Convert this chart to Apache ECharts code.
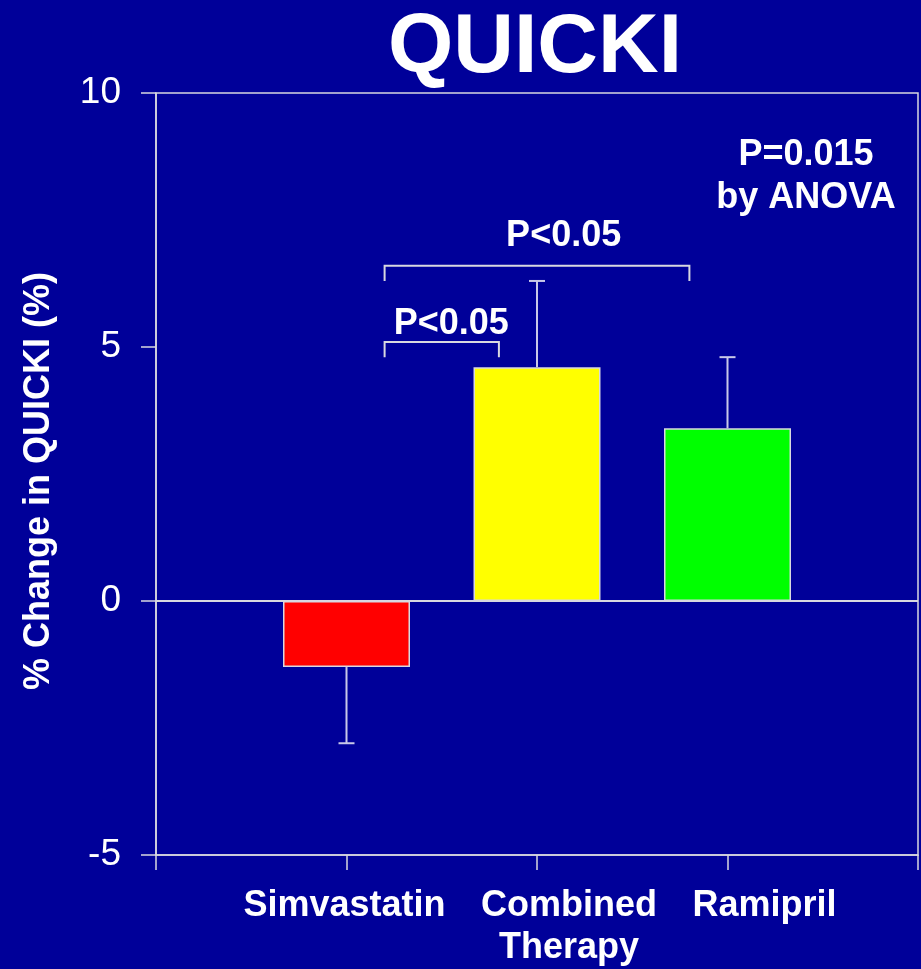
<!DOCTYPE html>
<html>
<head>
<meta charset="utf-8">
<title>QUICKI</title>
<script src="https://cdn.jsdelivr.net/npm/echarts@6/dist/echarts.min.js"></script>
<style>
	html,body{margin:0;padding:0;background:#000099}
	#chart{width:921px;height:969px}
</style>
</head>
<body>
<div id="chart"></div>
<script>
	// data
	var categories = ['', 'Simvastatin', 'Combined\nTherapy', 'Ramipril', ''];
	var changes = [null, -1.3, 4.6, 3.4, null];
	var errors = [null, 1.5, 1.7, 1.4, null];
	var barColors = [null, '#ff0000', '#ffff00', '#00ff00', null];
	var yMin = -5, yMax = 10, yStep = 5;
	// significance brackets: [from, to, level, end level] in axis units
	var brackets = [[1.2, 1.8, 5.1, 4.8], [1.2, 2.8, 6.6, 6.3]];
	var bracketText = ['P<0.05', 'P<0.05'];
	var bracketTextAt = [[1.55, 5.46], [2.14, 7.19]];
	var anovaText = 'P=0.015\nby ANOVA';

	var FONT = '"Liberation Sans", Arial, sans-serif';
	var LINE = '#d8d8e0';

	var barData = changes.map(function (v, i) {
		if (v === null) return '-';
		return {value: v, itemStyle: {color: barColors[i]}};
	});
	var errData = [];
	changes.forEach(function (v, i) {
		if (v !== null) errData.push([i, v, errors[i]]);
	});
	var bracketData = brackets.map(function (b, i) {
		return [b[0], b[1], b[2], b[3], bracketTextAt[i][0], bracketTextAt[i][1], i];
	});
	var labelStyle = ['', 's', 'c', 'r', ''];

	var myChart = echarts.init(document.getElementById('chart'));
	var option = {
		backgroundColor: '#000099',
		animation: false,
		grid: {
			left: 156, right: 3, top: 93, bottom: 114,
			containLabel: false,
			outerBoundsMode: 'none',
			show: true, borderColor: LINE, borderWidth: 1.5
		},
		xAxis: [
			{
				type: 'category',
				data: categories,
				boundaryGap: false,
				axisLine: {onZero: false, lineStyle: {color: LINE, width: 1.5}},
				axisTick: {length: 15, interval: 0, lineStyle: {color: LINE, width: 1.5}},
				axisLabel: {
					interval: 0,
					margin: 30,
					formatter: function (value, idx) {
						var k = labelStyle[idx];
						if (!k) return '';
						return value.split('\n').map(function (s) {
							return '{' + k + '|' + s + '}';
						}).join('\n');
					},
					rich: {
						s: {color: '#fff', fontFamily: FONT, fontWeight: 'bold', fontSize: 36, lineHeight: 42, padding: [0, 4, 0, 0]},
						c: {color: '#fff', fontFamily: FONT, fontWeight: 'bold', fontSize: 36, lineHeight: 42, padding: [0, 0, 0, 64]},
						r: {color: '#fff', fontFamily: FONT, fontWeight: 'bold', fontSize: 36, lineHeight: 42, padding: [0, 0, 0, 74]}
					}
				}
			},
			{type: 'value', min: 0, max: 4, show: false}
		],
		yAxis: {
			type: 'value',
			min: yMin, max: yMax, interval: yStep,
			name: '% Change in QUICKI (%)',
			nameLocation: 'middle',
			nameRotate: 90,
			nameGap: 99,
			nameTextStyle: {color: '#fff', fontFamily: FONT, fontWeight: 'bold', fontSize: 36, padding: [0, 14, 0, 0]},
			axisLine: {show: true, lineStyle: {color: LINE, width: 1.5}},
			axisTick: {show: true, length: 15, lineStyle: {color: LINE, width: 1.5}},
			axisLabel: {color: '#fff', fontFamily: FONT, fontSize: 37, margin: 35},
			splitLine: {show: false}
		},
		series: [
			{
				type: 'bar',
				data: barData,
				barWidth: 127,
				itemStyle: {borderColor: LINE, borderWidth: 1.5},
				markLine: {
					silent: true,
					symbol: 'none',
					label: {show: false},
					lineStyle: {type: 'solid', color: LINE, width: 2},
					data: [{yAxis: 0}]
				}
			},
			{
				type: 'custom',
				z: 5,
				data: errData,
				renderItem: function (params, api) {
					var x = api.value(0), v = api.value(1), e = api.value(2);
					var end = v < 0 ? v - e : v + e;
					var p0 = api.coord([x, v]);
					var p1 = api.coord([x, end]);
					var st = {stroke: '#c8c8e8', lineWidth: 2};
					return {
						type: 'group',
						children: [
							{type: 'line', shape: {x1: p0[0], y1: p0[1], x2: p1[0], y2: p1[1]}, style: st},
							{type: 'line', shape: {x1: p1[0] - 8, y1: p1[1], x2: p1[0] + 8, y2: p1[1]}, style: st}
						]
					};
				}
			},
			{
				type: 'custom',
				xAxisIndex: 1,
				z: 5,
				data: bracketData,
				renderItem: function (params, api) {
					var a = api.coord([api.value(0), api.value(2)]);
					var b = api.coord([api.value(1), api.value(2)]);
					var a2 = api.coord([api.value(0), api.value(3)]);
					var b2 = api.coord([api.value(1), api.value(3)]);
					var t = api.coord([api.value(4), api.value(5)]);
					return {
						type: 'group',
						children: [
							{
								type: 'polyline',
								shape: {points: [a2, a, b, b2]},
								style: {stroke: LINE, lineWidth: 2, fill: null}
							},
							{
								type: 'text',
								x: t[0], y: t[1],
								style: {
									text: bracketText[api.value(6)],
									fill: '#fff',
									font: 'bold 36px ' + FONT,
									align: 'center',
									verticalAlign: 'middle'
								}
							}
						]
					};
				}
			}
		],
		graphic: [
			{
				type: 'text',
				x: 535, y: 49,
				style: {
					text: 'QUICKI',
					fill: '#fff',
					font: 'bold 84px ' + FONT,
					align: 'center',
					verticalAlign: 'middle'
				}
			},
			{
				type: 'text',
				x: 806, y: 177,
				style: {
					text: anovaText,
					fill: '#fff',
					font: 'bold 36px ' + FONT,
					lineHeight: 43,
					align: 'center',
					verticalAlign: 'middle'
				}
			}
		]
	};
	myChart.setOption(option);
</script>
</body>
</html>
